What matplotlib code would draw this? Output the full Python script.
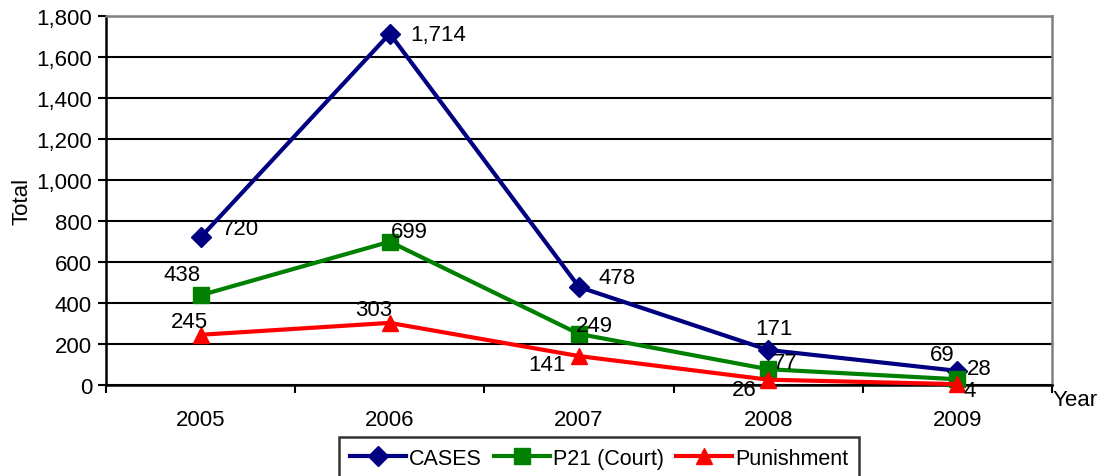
import matplotlib
matplotlib.use("Agg")
import matplotlib.pyplot as plt
from matplotlib.ticker import FuncFormatter, FixedLocator

plt.rcParams['font.family'] = ['Liberation Sans', 'DejaVu Sans']

years = ["2005", "2006", "2007", "2008", "2009"]
cases = [720, 1714, 478, 171, 69]
p21 = [438, 699, 249, 77, 28]
punishment = [245, 303, 141, 26, 4]

# label offsets in pixels (dx, dy) relative to marker, screen-down positive dy
cases_off = [(40, -9), (48, 1), (38, -10), (6, -21), (-15, -16)]
p21_off = [(-19, -21), (20, -10), (15, -8), (17, -7), (22, -11)]
pun_off = [(-11, -13), (-16, -13), (-32, 8), (-24, 10), (12, 6)]

FS = 16

fig = plt.figure(figsize=(10.99, 4.77), dpi=100)
ax = fig.add_axes([106/1099, 1-386/477, (1052-106)/1099, (386-17)/477])

x = list(range(len(years)))
series = [
    ("CASES", cases, "#000080", "D", 10, cases_off),
    ("P21 (Court)", p21, "#008000", "s", 11, p21_off),
    ("Punishment", punishment, "#FF0000", "^", 11, pun_off),
]
lines = []
for name, vals, col, mk, ms, offs in series:
    ln, = ax.plot(x, vals, color=col, lw=3, marker=mk, markersize=ms,
                  markerfacecolor=col, markeredgecolor=col, label=name, zorder=3, clip_on=False)
    lines.append(ln)
    for xi, v, (dx, dy) in zip(x, vals, offs):
        ax.annotate(f"{v:,}", (xi, v), xytext=(dx*0.72, -dy*0.72), textcoords='offset points',
                    ha='center', va='center', fontsize=FS, color='black', zorder=4)

ax.set_xlim(-0.5, 4.5)
ax.set_ylim(0, 1800)
ax.set_yticks(range(0, 1801, 200))
ax.yaxis.set_major_formatter(FuncFormatter(lambda v, p: f"{int(v):,}"))
ax.grid(axis='y', color='black', lw=1.5, zorder=1)
ax.set_axisbelow(True)

ax.set_xticks(x)
ax.set_xticklabels(years)
ax.xaxis.set_minor_locator(FixedLocator([-0.5, 0.5, 1.5, 2.5, 3.5, 4.5]))
ax.tick_params(axis='x', which='major', length=0, pad=17, labelsize=FS)
ax.tick_params(axis='x', which='minor', length=6, width=1.5, direction='out')
ax.tick_params(axis='y', length=6, width=1.5, direction='out', labelsize=FS, pad=4)

for s in ['left', 'bottom']:
    ax.spines[s].set_color('black')
    ax.spines[s].set_linewidth(1.8)
for s in ['top', 'right']:
    ax.spines[s].set_color('#808080')
    ax.spines[s].set_linewidth(1.8)

ax.set_ylabel("Total", fontsize=FS, labelpad=3)
fig.text(1075/1099, 1-401/477, "Year", fontsize=FS, ha='center', va='center')

leg = fig.legend(handles=lines, loc='upper center', bbox_to_anchor=(599/1099, 1-438/477),
                 ncol=3, frameon=True, fancybox=False, fontsize=15.5,
                 handlelength=2.6, handletextpad=0.15, columnspacing=0.55,
                 borderpad=0.5, borderaxespad=0)
leg.get_frame().set_edgecolor('black')
leg.get_frame().set_linewidth(1.8)

fig.savefig("out.png", dpi=100)
